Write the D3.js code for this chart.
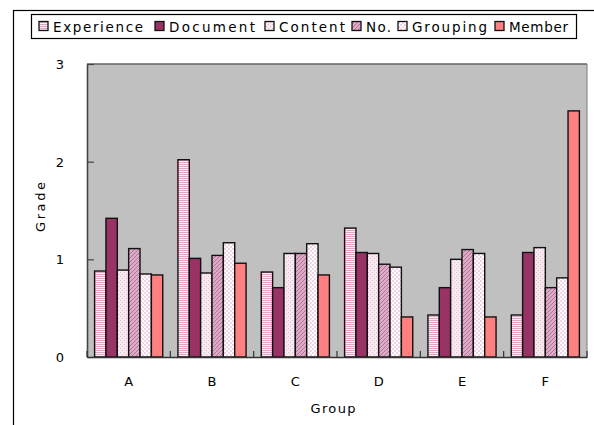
<!DOCTYPE html>
<html>
<head>
<meta charset="utf-8">
<script src="https://cdn.jsdelivr.net/npm/d3@7"></script>
<style>
  html, body { margin: 0; padding: 0; background: #fff; }
  svg { display: block; }
  text { font-family: "DejaVu Sans", "Liberation Sans", sans-serif; fill: #000; }
</style>
</head>
<body>
<svg id="chart" width="594" height="425"></svg>
<script>
// Groups along the x axis
const groups = ["A", "B", "C", "D", "E", "F"];
// Series names, in legend order
const seriesNames = ["Experience", "Document", "Content", "No.", "Grouping", "Member"];
// Grade per group for each series
const experience = [0.88, 2.02, 0.87, 1.32, 0.43, 0.43];
const documentVals = [1.42, 1.01, 0.71, 1.07, 0.71, 1.07];
const content = [0.89, 0.86, 1.06, 1.06, 1.00, 1.12];
const numberVals = [1.11, 1.04, 1.06, 0.95, 1.10, 0.71];
const grouping = [0.85, 1.17, 1.16, 0.92, 1.06, 0.81];
const member = [0.84, 0.96, 0.84, 0.41, 0.41, 2.52];
const yTicks = [0, 1, 2, 3];

const seriesValues = [experience, documentVals, content, numberVals, grouping, member];

const svg = d3.select("#chart");
const defs = svg.append("defs");

// Fill patterns for the series
function pattern(id, w, h, bg, pixels) {
  const p = defs.append("pattern").attr("id", id)
    .attr("patternUnits", "userSpaceOnUse").attr("width", w).attr("height", h);
  p.append("rect").attr("width", w).attr("height", h).attr("fill", bg);
  pixels.forEach(([px, py, pw, ph, c]) =>
    p.append("rect").attr("x", px).attr("y", py).attr("width", pw).attr("height", ph).attr("fill", c));
}
pattern("pExp", 4, 2, "#fcf0f6", [[0, 0, 4, 1, "#e2a4c4"]]);
pattern("pCon", 4, 4, "#f8e8f0", [[0, 0, 1, 1, "#e4bcd2"], [2, 2, 1, 1, "#e4bcd2"]]);
pattern("pNo", 4, 4, "#dcabc6", [[0, 3, 1, 1, "#b5719a"], [1, 2, 1, 1, "#b5719a"], [2, 1, 1, 1, "#b5719a"], [3, 0, 1, 1, "#b5719a"]]);
pattern("pGrp", 4, 4, "#ffffff", [[0, 0, 2, 2, "#f2d3e3"], [2, 2, 2, 2, "#f2d3e3"]]);

const fills = ["url(#pExp)", "#993366", "url(#pCon)", "url(#pNo)", "url(#pGrp)", "#ff8080"];

// Outer chart frame (extends past the window on right and bottom)
svg.append("rect").attr("x", 13.5).attr("y", 10.5).attr("width", 700).attr("height", 500)
  .attr("fill", "none").attr("stroke", "#000").attr("stroke-width", 1.2);

const plot = { left: 87, right: 587, top: 64, bottom: 357 };

const x = d3.scaleBand().domain(groups).range([plot.left, plot.right]).paddingInner(0).paddingOuter(0);
const xs = d3.scaleBand().domain(seriesNames)
  .range([7.6, x.bandwidth() - 7.6]).paddingInner(0);
const y = d3.scaleLinear().domain([0, 3]).range([plot.bottom, plot.top]);

// Plot area background
svg.append("rect").attr("x", plot.left).attr("y", plot.top)
  .attr("width", plot.right - plot.left).attr("height", plot.bottom - plot.top)
  .attr("fill", "#c0c0c0");
svg.append("line").attr("x1", plot.right).attr("x2", plot.right)
  .attr("y1", plot.top).attr("y2", plot.bottom).attr("stroke", "#8a8a8a").attr("stroke-width", 1.2);
svg.append("line").attr("x1", plot.left).attr("x2", plot.right)
  .attr("y1", plot.top).attr("y2", plot.top).attr("stroke", "#666").attr("stroke-width", 1.5);

// Bars
const rows = [];
groups.forEach((g, gi) => seriesNames.forEach((s, si) =>
  rows.push({ g, s, si, v: seriesValues[si][gi] })));

svg.append("g").selectAll("rect").data(rows).join("rect")
  .attr("x", d => x(d.g) + xs(d.s))
  .attr("y", d => y(d.v))
  .attr("width", xs.bandwidth())
  .attr("height", d => y(0) - y(d.v))
  .attr("fill", d => fills[d.si])
  .attr("stroke", "#111")
  .attr("stroke-width", 1.4);

// Y axis
const yAxis = d3.axisLeft(y).tickValues(yTicks).tickFormat(d3.format("d"))
  .tickSizeInner(-7).tickSizeOuter(0).tickPadding(23);
const gy = svg.append("g").attr("transform", `translate(${plot.left},0)`).call(yAxis);
gy.select(".domain").attr("stroke", "#444").attr("stroke-width", 1.6);
gy.selectAll(".tick line").attr("stroke", "#444").attr("stroke-width", 1.2);
gy.selectAll(".tick text").style("font-size", "13px").style("font-family", "'DejaVu Sans', sans-serif").attr("dy", "0.35em");

// X axis: labels centered in each group, ticks at group boundaries
const xAxis = d3.axisBottom(x).tickSize(0).tickPadding(20);
const gx = svg.append("g").attr("transform", `translate(0,${plot.bottom})`).call(xAxis);
gx.select(".domain").attr("stroke", "#333").attr("stroke-width", 1.6);
gx.selectAll(".tick text").style("font-size", "13px").style("font-family", "'DejaVu Sans', sans-serif");

const bounds = groups.map(g => x(g)).concat([plot.right]);
svg.append("g").selectAll("line").data(bounds).join("line")
  .attr("x1", d => d).attr("x2", d => d)
  .attr("y1", plot.bottom).attr("y2", plot.bottom - 6)
  .attr("stroke", "#333").attr("stroke-width", 1.2);

// Axis titles
svg.append("text").attr("x", 333).attr("y", 413).attr("text-anchor", "middle")
  .style("font-size", "13px").attr("textLength", 45).attr("lengthAdjust", "spacing").text("Group");
svg.append("text").attr("transform", "translate(45,207) rotate(-90)").attr("text-anchor", "middle")
  .style("font-size", "13px").attr("textLength", 50).attr("lengthAdjust", "spacing").text("Grade");

// Legend
const legend = svg.append("g");
legend.append("rect").attr("x", 31.5).attr("y", 14.5).attr("width", 545).attr("height", 24)
  .attr("fill", "#fff").attr("stroke", "#000").attr("stroke-width", 1.2);
const legX = [53, 169, 279, 366, 412, 509];
const legW = [90, 86, 66, 25, 75, 59];
seriesNames.forEach((s, i) => {
  legend.append("rect").attr("x", legX[i] - 14).attr("y", 21.5).attr("width", 9).attr("height", 9)
    .attr("fill", fills[i]).attr("stroke", "#111").attr("stroke-width", 1.3);
  legend.append("text").attr("x", legX[i]).attr("y", 31.5).style("font-size", "13.5px")
    .attr("textLength", legW[i]).attr("lengthAdjust", "spacing").text(s);
});
</script>
</body>
</html>
